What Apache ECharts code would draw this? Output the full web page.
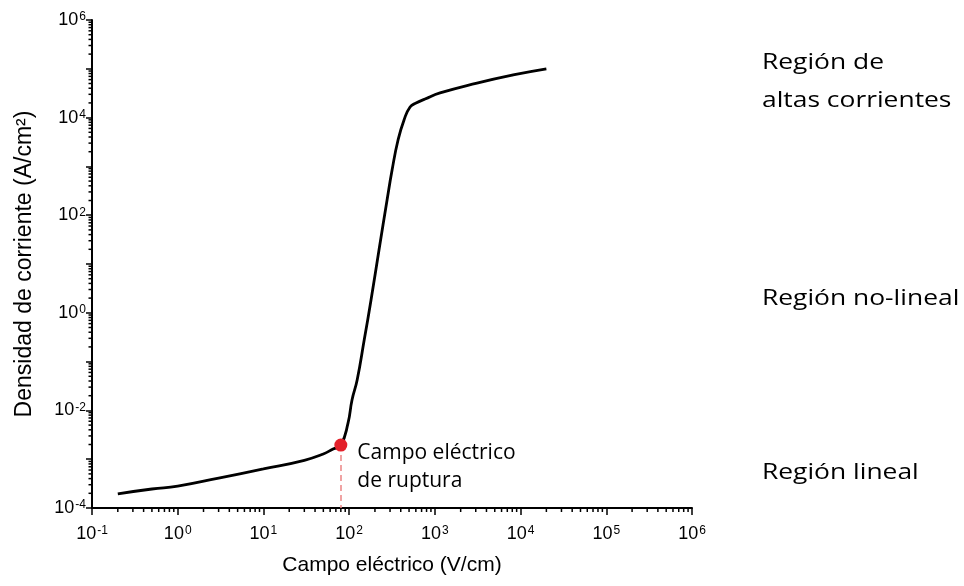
<!DOCTYPE html>
<html>
<head>
<meta charset="utf-8">
<script src="https://cdn.jsdelivr.net/npm/echarts@6/dist/echarts.min.js"></script>
<style>
  html, body { margin: 0; padding: 0; background: #fff; }
  #main { width: 964px; height: 586px; }
</style>
</head>
<body>
<div id="main"></div>
<script>
// curva J-E (campo eléctrico V/cm, densidad de corriente A/cm2)
const campo = [0.2, 0.5, 1, 3, 10, 30, 50, 65, 80, 97, 108, 124, 150, 180, 223, 277, 317, 372, 437, 514, 604, 769, 1150, 3100, 8200, 20000];
const densidad = [1.95e-4, 2.45e-4, 2.8e-4, 4.1e-4, 6.3e-4, 9.5e-4, 1.28e-3, 1.62e-3, 1.95e-3, 5.5e-3, 0.0163, 0.042, 0.28, 1.83, 19.4, 205, 843, 3475, 8930, 16500, 19900, 24000, 32000, 51000, 75000, 100000];
// campo eléctrico de ruptura
const ruptura = [80, 1.95e-3];
const ejeX = [0.1, 1e6];
const ejeY = [1e-4, 1e6];
const regiones = ['Región de\naltas corrientes', 'Región no-lineal', 'Región lineal'];

const chartDom = document.getElementById('main');
const myChart = echarts.init(chartDom);

// marcas menores logarítmicas (2..9 de cada década)
function menores(rango) {
  const out = [];
  const e0 = Math.round(Math.log10(rango[0]));
  const e1 = Math.round(Math.log10(rango[1]));
  for (let e = e0; e < e1; e++) {
    for (let m = 2; m <= 9; m++) out.push(m * Math.pow(10, e));
  }
  return out;
}

const fuenteEje = 'Liberation Sans, Arial, sans-serif';
const fuenteTexto = 'Open Sans, Noto Sans, sans-serif';

const etiqueta = (soloPares) => (v) => {
  const e = Math.round(Math.log10(v));
  if (soloPares && e % 2 !== 0) return '';
  return '{b|10}{s|' + e + '}';
};
const rich = {
  b: { fontSize: 18, fontFamily: fuenteEje, color: '#000' },
  s: { fontSize: 12, fontFamily: fuenteEje, color: '#000', verticalAlign: 'top', padding: [0, 0, 0, 1] }
};

const textoRegion = (txt, top) => ({
  type: 'text', left: 762, top: top, scaleX: 1.2,
  style: { text: txt, font: '500 22px ' + fuenteTexto, fill: '#000', lineHeight: 38 }
});

const option = {
  animation: false,
  grid: { left: 92, right: 272, top: 20, bottom: 78 },
  xAxis: {
    type: 'log',
    logBase: 10,
    min: ejeX[0],
    max: ejeX[1],
    interval: 1,
    name: 'Campo eléctrico (V/cm)',
    nameLocation: 'middle',
    nameGap: 47,
    nameTextStyle: { fontSize: 21, fontFamily: fuenteEje, color: '#000' },
    axisLine: { lineStyle: { color: '#000', width: 2 } },
    axisTick: { show: true, length: 7, lineStyle: { color: '#000', width: 1.5 } },
    axisLabel: { margin: 17, formatter: etiqueta(false), rich: rich },
    splitLine: { show: false }
  },
  yAxis: {
    type: 'log',
    logBase: 10,
    min: ejeY[0],
    max: ejeY[1],
    interval: 1,
    splitNumber: 10,
    name: 'Densidad de corriente (A/cm²)',
    nameLocation: 'middle',
    nameGap: 56,
    nameTextStyle: { fontSize: 23, fontFamily: fuenteEje, color: '#000' },
    axisLine: { lineStyle: { color: '#000', width: 2 } },
    axisTick: { show: true, length: 6, lineStyle: { color: '#000', width: 1.5 } },
    axisLabel: { margin: 6, formatter: etiqueta(true), rich: rich },
    splitLine: { show: false }
  },
  graphic: [
    textoRegion(regiones[0], 44),
    textoRegion(regiones[1], 280),
    textoRegion(regiones[2], 454)
  ],
  series: [
    {
      type: 'line',
      data: campo.map((x, i) => [x, densidad[i]]),
      smooth: 0.5,
      showSymbol: false,
      lineStyle: { color: '#000', width: 2.8 },
      z: 3
    },
    {
      type: 'scatter',
      data: [ruptura],
      symbolSize: 13,
      itemStyle: { color: '#e3202a', opacity: 1 },
      z: 5,
      label: {
        show: true,
        position: 'right',
        distance: 10,
        offset: [0, 22],
        formatter: 'Campo eléctrico\nde ruptura',
        fontSize: 21,
        fontWeight: 500,
        lineHeight: 28,
        fontFamily: fuenteTexto,
        color: '#000'
      },
      markLine: {
        silent: true,
        symbol: 'none',
        label: { show: false },
        lineStyle: { color: '#ec8585', width: 1.5, type: [6, 4], opacity: 1 },
        data: [[{ coord: [ruptura[0], ruptura[1]] }, { coord: [ruptura[0], ejeY[0]] }]]
      }
    },
    {
      type: 'custom',
      silent: true,
      data: menores(ejeX).map(v => [v, ejeY[0]]),
      renderItem: (params, api) => {
        const p = api.coord([api.value(0), api.value(1)]);
        return { type: 'line', shape: { x1: p[0], y1: p[1], x2: p[0], y2: p[1] + 4 }, style: { stroke: '#000', lineWidth: 1.5 } };
      }
    },
    {
      type: 'custom',
      silent: true,
      data: menores(ejeY).map(v => [ejeX[0], v]),
      renderItem: (params, api) => {
        const p = api.coord([api.value(0), api.value(1)]);
        return { type: 'line', shape: { x1: p[0] - 3.5, y1: p[1], x2: p[0], y2: p[1] }, style: { stroke: '#000', lineWidth: 1.5 } };
      }
    }
  ]
};

option && myChart.setOption(option);
</script>
</body>
</html>
